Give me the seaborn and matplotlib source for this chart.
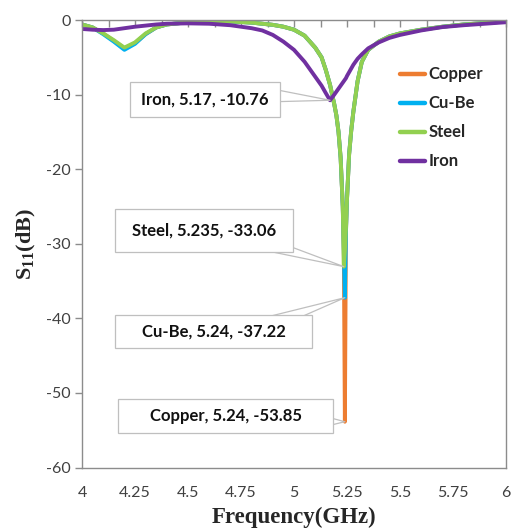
import numpy as np
import pandas as pd
import matplotlib
matplotlib.use("Agg")
import matplotlib.pyplot as plt
import seaborn as sns
from matplotlib.patches import Rectangle
from matplotlib.ticker import MultipleLocator

# S11 data (GHz, dB)
freq = [4.0, 4.05, 4.1, 4.15, 4.2, 4.25, 4.3, 4.35, 4.4, 4.5, 4.6, 4.7, 4.8, 4.85,
        4.9, 4.95, 5.0, 5.05, 5.1, 5.13, 5.15, 5.17, 5.19, 5.2, 5.21, 5.22, 5.23,
        5.235, 5.24, 5.245, 5.25, 5.26, 5.27, 5.28, 5.3, 5.32, 5.35, 5.4, 5.45,
        5.5, 5.6, 5.7, 5.8, 5.9, 6.0]

copper = [-0.6, -1.0, -1.8, -2.8, -3.8, -3.1, -1.9, -1.0, -0.6, -0.3, -0.2, -0.2, -0.35, -0.5,
          -0.65, -0.9, -1.3, -2.1, -3.7, -5.0, -6.7, -8.7, -11.3, -12.8, -15.0, -18.5, -25.0,
          -31.0, -53.85, -28.5, -24.0, -18.0, -14.8, -12.3, -8.2, -5.6, -4.0, -2.9, -2.2,
          -1.8, -1.3, -0.9, -0.6, -0.4, -0.2]
cube = [-0.6, -1.0, -1.9, -2.9, -4.0, -3.2, -1.9, -1.0, -0.6, -0.3, -0.2, -0.2, -0.35, -0.5,
        -0.65, -0.9, -1.3, -2.1, -3.7, -5.0, -6.7, -8.7, -11.3, -12.8, -15.0, -18.5, -25.0,
        -31.0, -37.22, -28.5, -24.0, -18.0, -14.8, -12.3, -8.2, -5.6, -4.0, -2.9, -2.2,
        -1.8, -1.3, -0.9, -0.6, -0.4, -0.2]
steel = [-0.6, -1.0, -1.8, -2.7, -3.7, -3.0, -1.8, -1.0, -0.6, -0.3, -0.2, -0.2, -0.35, -0.5,
         -0.65, -0.9, -1.3, -2.1, -3.7, -5.0, -6.7, -8.7, -11.3, -12.8, -15.0, -18.5, -25.0,
         -33.06, -31.0, -28.0, -24.0, -18.0, -14.8, -12.3, -8.2, -5.6, -4.0, -2.9, -2.2,
         -1.8, -1.3, -0.9, -0.6, -0.4, -0.2]
iron = [-1.2, -1.3, -1.35, -1.3, -1.1, -0.9, -0.75, -0.6, -0.5, -0.45, -0.5, -0.7, -1.1, -1.4,
        -2.0, -2.9, -4.0, -5.6, -7.6, -8.8, -9.8, -10.76, -10.0, -9.6, -9.2, -8.8, -8.4,
        -8.2, -8.0, -7.8, -7.5, -7.0, -6.5, -6.0, -5.2, -4.6, -3.8, -3.0, -2.4,
        -2.0, -1.4, -0.95, -0.7, -0.5, -0.3]

metals = ["Copper", "Cu-Be", "Steel", "Iron"]
colors = ["#ED7D31", "#00B0F0", "#92D050", "#7030A0"]

# callouts: label, point x, point y
notes = ["Iron, 5.17, -10.76", "Steel, 5.235, -33.06", "Cu-Be, 5.24, -37.22", "Copper, 5.24, -53.85"]
note_x = [5.17, 5.235, 5.24, 5.24]
note_y = [-10.76, -33.06, -37.22, -53.85]

df = pd.concat([pd.DataFrame({"freq": freq, "s11": v, "metal": m})
                for m, v in zip(metals, [copper, cube, steel, iron])])

sns.set_style("white")
plt.rcParams["font.family"] = ["Lato", "DejaVu Sans"]
plt.rcParams["mathtext.fontset"] = "custom"
plt.rcParams["mathtext.rm"] = "Liberation Serif:bold"

fig = plt.figure(figsize=(5.12, 5.31), dpi=100)
ax = fig.add_axes([82 / 512, 1 - 467.6 / 531, 424 / 512, 447.6 / 531])

sns.lineplot(data=df, x="freq", y="s11", hue="metal", hue_order=metals,
             palette=colors, linewidth=2.8, estimator=None, sort=False, ax=ax)

ax.set_xlim(4, 6)
ax.set_ylim(-60, 0)

# boxes in data coords (x0, x1, y0, y1) and where the wedge starts
boxes = [(4.226, 4.934, -13.0, -8.31), (4.156, 4.995, -31.1, -25.3),
         (4.156, 5.085, -44.0, -39.5), (4.170, 5.184, -55.4, -50.8)]
starts = [(4.85, -10.0), (4.80, -29.5), (4.85, -41.0), (5.10, -53.8)]

for txt, px, py, b, s in zip(notes, note_x, note_y, boxes, starts):
    ax.annotate("", xy=(px, py), xytext=s,
                arrowprops=dict(arrowstyle="wedge,tail_width=0.6", fc="white",
                                ec="#BFBFBF", lw=0.9, shrinkA=0, shrinkB=0,
                                mutation_scale=18),
                zorder=5)
    ax.add_patch(Rectangle((b[0], b[2]), b[1] - b[0], b[3] - b[2], fc="white",
                           ec="#BFBFBF", lw=0.9, zorder=6))
    ax.text((b[0] + b[1]) / 2, (b[2] + b[3]) / 2, txt, ha="center", va="center",
            fontsize=12, fontweight="bold", color="#111111", zorder=7)

# axes styling
for sp in ax.spines.values():
    sp.set_visible(True)
    sp.set_color("#8C8C8C")
    sp.set_linewidth(1.0)

ax.xaxis.set_major_locator(MultipleLocator(0.25))
ax.xaxis.set_minor_locator(MultipleLocator(0.125))
ax.set_xticks(np.arange(4, 6.01, 0.25))
ax.set_xticklabels(["4", "4.25", "4.5", "4.75", "5", "5.25", "5.5", "5.75", "6"])
ax.set_yticks(np.arange(-60, 1, 10))
ax.set_yticklabels([str(v) for v in range(-60, 1, 10)])
ax.tick_params(axis="x", which="both", bottom=False, top=True, labelbottom=True,
               labeltop=False, direction="in", length=5, width=1, color="#8C8C8C",
               pad=13, labelsize=11.5, labelcolor="#404040")
ax.tick_params(axis="y", left=True, direction="out", length=5, width=1,
               color="#8C8C8C", pad=3, labelsize=11.5, labelcolor="#404040")

ax.set_xlabel("Frequency(GHz)", family="Liberation Serif", fontweight="bold",
              fontsize=16.5, labelpad=5)
ax.set_ylabel(r"S$_{\mathrm{11}}$(dB)", family="Liberation Serif", fontweight="bold",
              fontsize=16, labelpad=6)

leg = ax.legend(loc="upper left", bbox_to_anchor=(0.73, 0.915), frameon=False,
                borderpad=0, labelspacing=0.78, handlelength=1.5, handletextpad=0.2,
                prop={"family": "Lato", "weight": "bold", "size": 12})
for line in leg.get_lines():
    line.set_linewidth(3.2)

fig.savefig("out.png", dpi=100)
